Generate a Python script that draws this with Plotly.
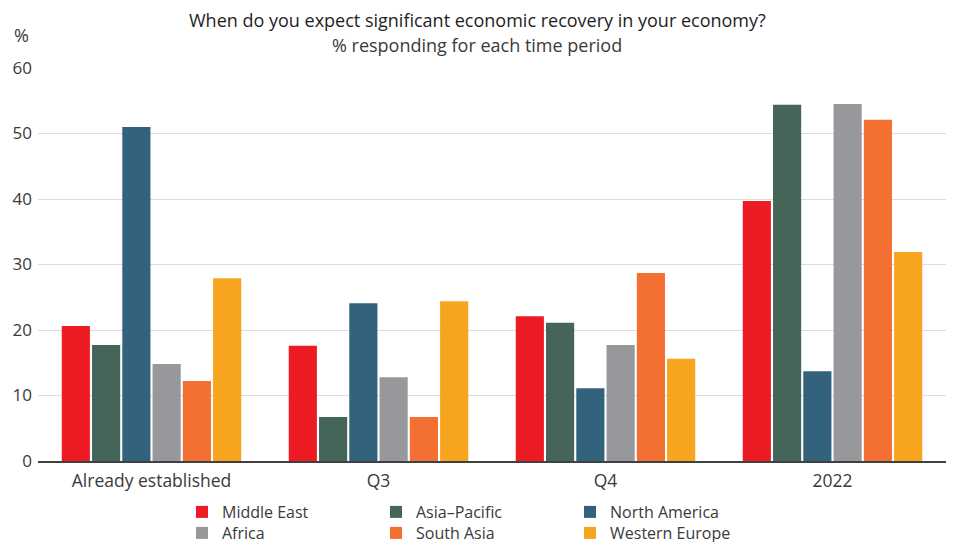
import plotly.graph_objects as go

categories = ["Already established", "Q3", "Q4", "2022"]
series_names = ["Middle East", "Asia\u2013Pacific", "North America", "Africa", "South Asia", "Western Europe"]
middle_east = [20.6, 17.6, 22.1, 39.7]
asia_pacific = [17.7, 6.7, 21.1, 54.4]
north_america = [51.0, 24.1, 11.1, 13.7]
africa = [14.8, 12.8, 17.7, 54.5]
south_asia = [12.2, 6.7, 28.7, 52.1]
western_europe = [27.9, 24.4, 15.6, 31.9]
series_values = [middle_east, asia_pacific, north_america, africa, south_asia, western_europe]
colors = ["#ED1C24", "#456558", "#33627C", "#97989C", "#F37032", "#F7A51F"]

FONT = "'Open Sans', Lato, sans-serif"
TXT = "#3a3a3a"

L, R, T, B = 30, 17, 60, 89
PW = 955 - L - R
PH = 542 - T - B

fig = go.Figure()
for i, (name, vals, col) in enumerate(zip(series_names, series_values, colors)):
    fig.add_trace(go.Bar(
        x=categories, y=vals, name=name, marker_color=col, marker_line_width=0,
        legend="legend" if i < 3 else "legend2",
    ))

legend_common = dict(
    orientation="h", xanchor="left", yanchor="middle",
    font=dict(family=FONT, size=16, color=TXT),
    entrywidth=149, entrywidthmode="pixels",
    itemsizing="constant", bgcolor="rgba(0,0,0,0)",
    tracegroupgap=0, itemwidth=30,
)

fig.update_layout(
    width=955, height=542,
    margin=dict(l=L, r=R, t=T, b=B, autoexpand=False),
    paper_bgcolor="white", plot_bgcolor="white",
    barmode="group", bargap=0.2, bargroupgap=0.07,
    font=dict(family=FONT, size=18, color=TXT),
    legend=dict(**legend_common, x=(174 - L) / PW, y=-(51) / PH),
    legend2=dict(**legend_common, x=(174 - L) / PW, y=-(72) / PH),
    xaxis=dict(
        showline=True, linecolor="#404040", linewidth=1.5,
        ticks="", tickfont=dict(family=FONT, size=17.5, color=TXT),
        showgrid=False, ticklabelstandoff=3,
    ),
    yaxis=dict(
        range=[0, 60], dtick=10, showgrid=True, gridcolor="#dcdcdc", gridwidth=1.2,
        zeroline=False, showline=False, ticks="",
        tickfont=dict(family=FONT, size=17, color=TXT), ticklabelstandoff=5,
    ),
    annotations=[
        dict(
            text="When do you expect significant economic recovery in your economy?",
            xref="paper", yref="paper", x=(469 - L) / PW, y=1 + 48 / PH,
            xanchor="center", yanchor="middle", showarrow=False,
            font=dict(family=FONT, size=18, color="#1e1e1e", weight=500),
        ),
        dict(
            text="% responding for each time period",
            xref="paper", yref="paper", x=(469 - L) / PW, y=1 + 23 / PH,
            xanchor="center", yanchor="middle", showarrow=False,
            font=dict(family=FONT, size=18, color=TXT),
        ),
        dict(
            text="%", xref="paper", yref="paper", x=(4 - L) / PW, y=1 + 33 / PH,
            xanchor="left", yanchor="middle", showarrow=False,
            font=dict(family=FONT, size=18, color=TXT),
        ),
    ],
)

fig.write_html("out.html")
